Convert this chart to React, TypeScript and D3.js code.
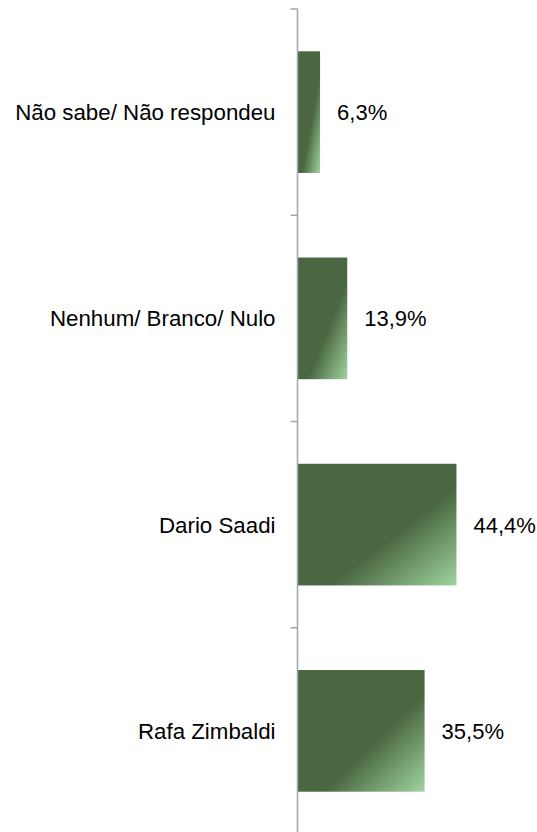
import * as d3 from 'd3';
import React from 'react';

const categories = ['Não sabe/ Não respondeu', 'Nenhum/ Branco/ Nulo', 'Dario Saadi', 'Rafa Zimbaldi'];
const values = [6.3, 13.9, 44.4, 35.5];
const valueLabels = ['6,3%', '13,9%', '44,4%', '35,5%'];

const W = 537;
const H = 832;
const axisX = 297.5;

const App = () => {
  const y = d3
    .scaleBand()
    .domain(categories)
    .range([9, 834])
    .paddingInner(0.41)
    .paddingOuter(0.205);
  const x = d3.scaleLinear().domain([0, 50]).range([axisX, axisX + 179]);
  const step = y.step();
  const ticks = d3.range(categories.length).map((i) => 9 + i * step);

  return (
    <svg
      width={W}
      height={H}
      style={{ position: 'absolute', left: 0, top: 0, display: 'block' }}
      fontFamily="'Liberation Sans', Arial, sans-serif"
    >
      <defs>
        <linearGradient id="barGrad" x1="0" y1="0" x2="1" y2="1">
          <stop offset="0" stopColor="#4a6741" />
          <stop offset="0.6" stopColor="#4a6741" />
          <stop offset="1" stopColor="#a0d4a0" />
        </linearGradient>
      </defs>
      <rect width={W} height={H} fill="#ffffff" />
      {categories.map((c, i) => {
        const by = y(c) as number;
        const cy = by + y.bandwidth() / 2;
        return (
          <g key={c}>
            <rect
              x={axisX}
              y={by}
              width={x(values[i]) - axisX}
              height={y.bandwidth()}
              fill="url(#barGrad)"
            />
            <text x={275.5} y={cy} dy="0.36em" textAnchor="end" fontSize={22.3} fill="#000">
              {c}
            </text>
            <text x={x(values[i]) + 17} y={cy} dy="0.36em" fontSize={22} fill="#000">
              {valueLabels[i]}
            </text>
          </g>
        );
      })}
      <line x1={axisX} x2={axisX} y1={9} y2={H} stroke="#9ea5ae" strokeWidth={1.5} />
      {ticks.map((t) => (
        <line key={t} x1={290.5} x2={axisX} y1={t} y2={t} stroke="#9ea5ae" strokeWidth={1.5} />
      ))}
    </svg>
  );
};

export default App;
